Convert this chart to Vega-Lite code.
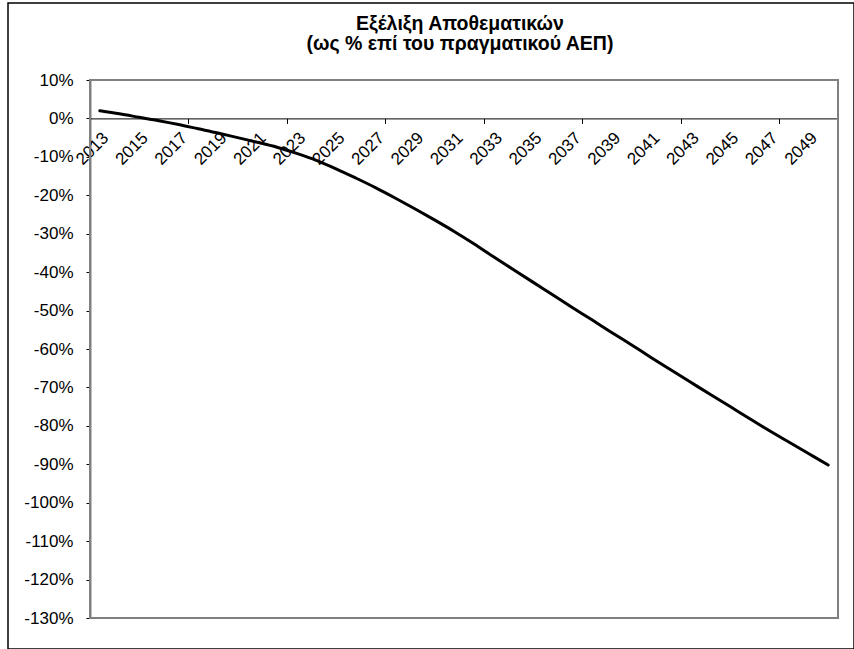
{
  "$schema": "https://vega.github.io/schema/vega-lite/v6.json",
  "width": 846,
  "height": 646,
  "padding": {"left": 8, "top": 3, "right": 0, "bottom": 0},
  "autosize": {"type": "none"},
  "background": "white",
  "config": {
    "font": "Liberation Sans",
    "view": {"stroke": "black", "strokeWidth": 1.5, "fill": "white"}
  },
  "title": {
    "text": ["Εξέλιξη Αποθεματικών", "(ως % επί του πραγματικού ΑΕΠ)"],
    "font": "Liberation Sans",
    "fontSize": 19.5,
    "fontWeight": "bold",
    "color": "black",
    "anchor": "middle",
    "frame": "group",
    "lineHeight": 20,
    "offset": -51,
    "dx": 29
  },
  "data": {
    "values": [
      {"year": 2013, "value": 2.0},
      {"year": 2014, "value": 1.2},
      {"year": 2015, "value": 0.3},
      {"year": 2016, "value": -0.6},
      {"year": 2017, "value": -1.6},
      {"year": 2018, "value": -2.7},
      {"year": 2019, "value": -3.8},
      {"year": 2020, "value": -5.0},
      {"year": 2021, "value": -6.2},
      {"year": 2022, "value": -7.5},
      {"year": 2023, "value": -9.1},
      {"year": 2024, "value": -10.9},
      {"year": 2025, "value": -13.1},
      {"year": 2026, "value": -15.5},
      {"year": 2027, "value": -18.0},
      {"year": 2028, "value": -20.7},
      {"year": 2029, "value": -23.5},
      {"year": 2030, "value": -26.4},
      {"year": 2031, "value": -29.4},
      {"year": 2032, "value": -32.6},
      {"year": 2033, "value": -36.0},
      {"year": 2034, "value": -39.3},
      {"year": 2035, "value": -42.6},
      {"year": 2036, "value": -45.9},
      {"year": 2037, "value": -49.2},
      {"year": 2038, "value": -52.4},
      {"year": 2039, "value": -55.7},
      {"year": 2040, "value": -58.9},
      {"year": 2041, "value": -62.2},
      {"year": 2042, "value": -65.4},
      {"year": 2043, "value": -68.6},
      {"year": 2044, "value": -71.8},
      {"year": 2045, "value": -74.9},
      {"year": 2046, "value": -78.1},
      {"year": 2047, "value": -81.2},
      {"year": 2048, "value": -84.2},
      {"year": 2049, "value": -87.2},
      {"year": 2050, "value": -90.2}
    ]
  },
  "layer": [
    {
      "mark": {"type": "rect", "fill": null, "stroke": "#808080", "strokeWidth": 2},
      "encoding": {
        "x": {"datum": 2012.5, "type": "quantitative", "axis": null},
        "x2": {"datum": 2050.5},
        "y": {"datum": 10, "type": "quantitative", "title": null},
        "y2": {"datum": -130}
      }
    },
    {
      "mark": {"type": "line", "color": "black", "strokeWidth": 3, "interpolate": "monotone", "strokeCap": "round"},
      "encoding": {
        "x": {
          "field": "year",
          "type": "quantitative",
          "scale": {"domain": [2012.5, 2050.5], "range": [82, 830], "nice": false, "zero": false},
          "axis": {
            "title": null,
            "orient": "bottom",
            "offset": -530.6,
            "values": [2013, 2015, 2017, 2019, 2021, 2023, 2025, 2027, 2029, 2031, 2033, 2035, 2037, 2039, 2041, 2043, 2045, 2047, 2049],
            "format": "d",
            "labelAngle": -45,
            "labelAlign": "right",
            "labelBaseline": "top",
            "labelPadding": 11,
            "labelFontSize": 17,
            "labelColor": "black",
            "labelFont": "Liberation Sans",
            "labelOverlap": false,
            "labelFlush": false,
            "labelBound": false,
            "ticks": false,
            "tickSize": 0,
            "domain": true,
            "domainColor": "black",
            "domainWidth": 1,
            "grid": false
          }
        },
        "y": {
          "field": "value",
          "type": "quantitative",
          "title": null,
          "scale": {"domain": [-130, 10], "range": [615, 77], "nice": false, "zero": false},
          "axis": {
            "orient": "left",
            "offset": -82,
            "values": [10, 0, -10, -20, -30, -40, -50, -60, -70, -80, -90, -100, -110, -120, -130],
            "labelExpr": "datum.value + '%'",
            "labelFontSize": 17,
            "labelColor": "black",
            "labelFont": "Liberation Sans",
            "labelPadding": 13,
            "labelOverlap": false,
            "labelFlush": false,
            "labelBound": false,
            "tickSize": 4,
            "tickColor": "black",
            "tickWidth": 1,
            "domainColor": "black",
            "domainWidth": 1.5,
            "grid": false
          }
        }
      }
    },
    {
      "mark": {"type": "point", "opacity": 0},
      "encoding": {
        "x": {
          "field": "year",
          "type": "quantitative",
          "axis": {
            "title": null,
            "orient": "bottom",
            "offset": -530.6,
            "values": [2012.5, 2017.5, 2022.5, 2027.5, 2032.5, 2037.5, 2042.5, 2047.5],
            "labels": false,
            "domain": false,
            "ticks": true,
            "tickSize": 5,
            "tickColor": "black",
            "tickWidth": 1,
            "grid": false
          }
        },
        "y": {"field": "value", "type": "quantitative", "title": null}
      }
    }
  ],
  "resolve": {"axis": {"x": "independent"}}
}
